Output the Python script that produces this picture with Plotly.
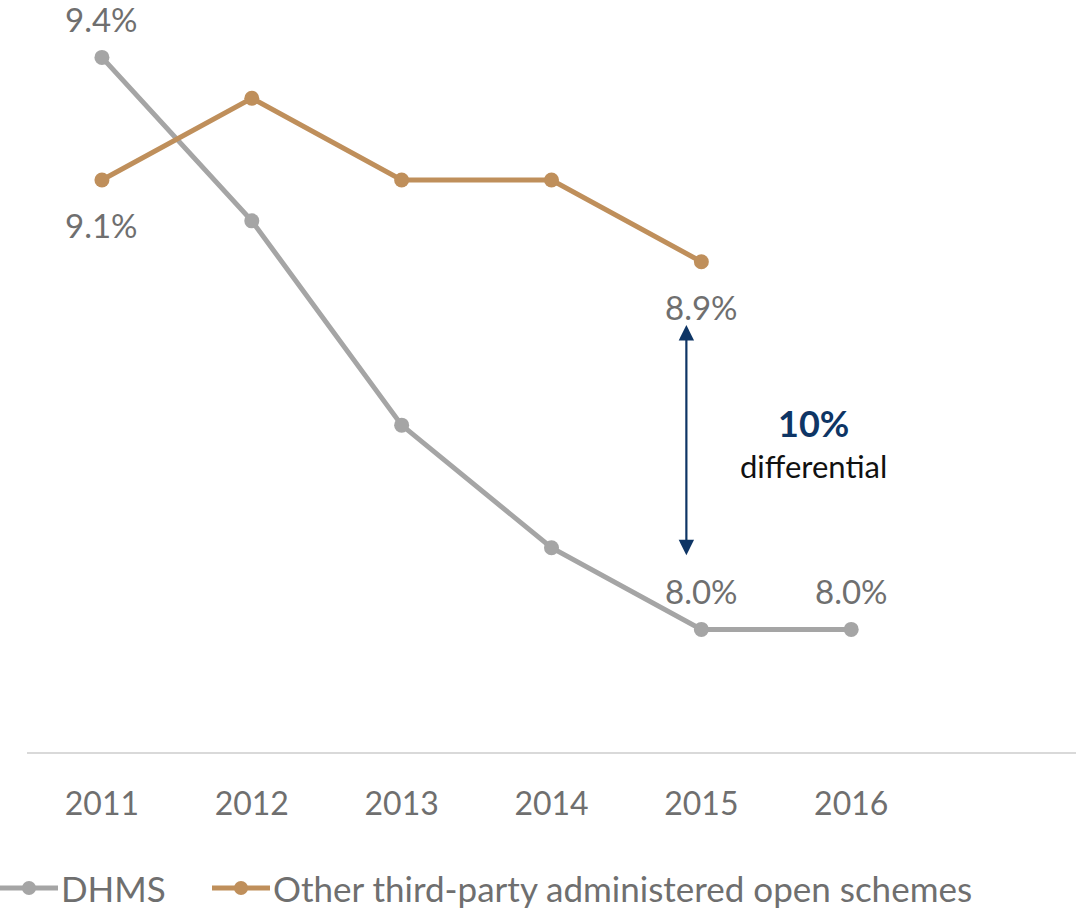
import plotly.graph_objects as go

years = ["2011", "2012", "2013", "2014", "2015", "2016"]
dhms = [9.4, 9.0, 8.5, 8.2, 8.0, 8.0]
other = [9.1, 9.3, 9.1, 9.1, 8.9]
series_names = ["DHMS", "Other third-party administered open schemes"]

# which points carry a value label
dhms_labels = [0, 4, 5]
other_labels = [0, 4]

GREY = "#A5A5A5"
GOLD = "#BF8F5B"
TEXT = "#6F6F6F"
NAVY = "#0E3565"
FONT = "Lato"

W, H = 1076, 908
ML, MB = 27, 156
PLOT_W, PLOT_H = W - ML, H - MB

x_idx = list(range(len(years)))

fig = go.Figure()
fig.add_trace(go.Scatter(
    x=x_idx, y=dhms, name=series_names[0], mode="lines+markers",
    line=dict(color=GREY, width=5), marker=dict(color=GREY, size=15),
))
fig.add_trace(go.Scatter(
    x=x_idx[:len(other)], y=other, name=series_names[1], mode="lines+markers",
    line=dict(color=GOLD, width=5), marker=dict(color=GOLD, size=15),
))

annotations = []
for i in dhms_labels:
    annotations.append(dict(x=i, y=dhms[i], text=f"{dhms[i]:.1f}%", showarrow=False,
                            yshift=38, font=dict(family=FONT, size=33, color=TEXT)))
for i in other_labels:
    annotations.append(dict(x=i, y=other[i], text=f"{other[i]:.1f}%", showarrow=False,
                            yshift=-45, font=dict(family=FONT, size=33, color=TEXT)))

# double-headed arrow marking the gap in 2015
annotations.append(dict(x=3.9, y=8.745, ax=3.9, ay=8.178, axref="x", ayref="y",
                        xref="x", yref="y", text="", showarrow=True,
                        arrowside="end+start", arrowhead=2, arrowsize=1.4,
                        arrowwidth=2.2, arrowcolor=NAVY))
annotations.append(dict(x=4.75, y=8.505, text="<b>10%</b>", showarrow=False,
                        font=dict(family=FONT, size=36, color=NAVY)))
annotations.append(dict(x=4.75, y=8.40, text="differential", showarrow=False,
                        font=dict(family=FONT, size=31, color="#111111")))

# legend row below the axis: a line-with-marker key followed by the series name
def px_x(px):
    return (px - ML) / PLOT_W

def px_y(py):
    return (PLOT_H - py) / PLOT_H

shapes = []
legend_y = px_y(888)
for name, color, key_left in zip(series_names, [GREY, GOLD], [0, 212]):
    cx = px_x(key_left + 29)
    shapes.append(dict(type="line", xref="paper", yref="paper",
                       xsizemode="pixel", ysizemode="pixel", xanchor=cx, yanchor=legend_y,
                       x0=-29, x1=29, y0=0, y1=0, line=dict(color=color, width=5)))
    shapes.append(dict(type="circle", xref="paper", yref="paper",
                       xsizemode="pixel", ysizemode="pixel", xanchor=cx, yanchor=legend_y,
                       x0=-7, x1=7, y0=-7, y1=7, fillcolor=color, line=dict(width=0)))
    annotations.append(dict(xref="paper", yref="paper", x=px_x(key_left + 59), y=legend_y,
                            xanchor="left", yanchor="middle", text=name, showarrow=False,
                            font=dict(family=FONT, size=35, color=TEXT)))

fig.update_layout(
    width=W, height=H,
    margin=dict(l=ML, r=0, t=0, b=MB, autoexpand=False),
    paper_bgcolor="white", plot_bgcolor="white",
    showlegend=False,
    annotations=annotations,
    shapes=shapes,
)
fig.update_xaxes(
    range=[-0.5, 6.5], tickvals=x_idx, ticktext=years,
    showgrid=False, zeroline=False, showline=True, linecolor="#D9D9D9", linewidth=2,
    ticks="", ticklabelstandoff=23,
    tickfont=dict(family=FONT, size=32, color=TEXT),
)
fig.update_yaxes(range=[7.7, 9.5405], visible=False, showgrid=False, zeroline=False)

fig.write_html("out.html")
